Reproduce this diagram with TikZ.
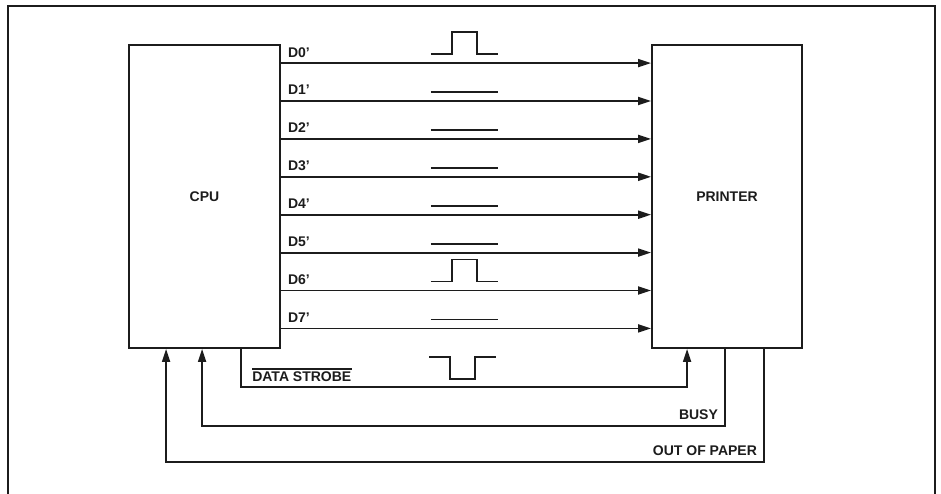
\documentclass[tikz,border=0pt]{standalone}
\usepackage{fontspec}
\setmainfont{Liberation Sans}
\usetikzlibrary{arrows.meta,positioning,calc}
\definecolor{ink}{RGB}{28,28,28}

\tikzset{
  unitbox/.style={draw=ink,line width=1.8pt,inner sep=0pt,
    minimum width=151pt,minimum height=303pt,
    font=\fontsize{14}{16}\selectfont\bfseries,text=ink},
  sig/.style={draw=ink,line width=1.8pt,
    -{Triangle[length=13pt,width=8pt]}},
  wire/.style={draw=ink,line width=1.8pt},
  wave/.style={draw=ink,line width=1.8pt},
  lbl/.style={font=\fontsize{14}{16}\selectfont\bfseries,text=ink,inner sep=0pt},
}

\begin{document}
\begin{tikzpicture}[x=1pt,y=-1pt]
  \useasboundingbox (0,0) rectangle (941,494);
  % outer frame
  \draw[wire] (8,500) |- (935,6) -- (935,500);

  % the two units
  \node[unitbox] (cpu) at (204.5,196.5) {CPU};
  \node[unitbox,minimum width=150pt] (prn) at (727,196.5) {PRINTER};

  % data lines D0'..D7'
  \foreach \i in {0,...,7}{
    \path (cpu.north east) ++(0,19+37.9*\i) coordinate (d\i);
    \draw[sig] (d\i) -- (d\i -| prn.west);
    \node[lbl,anchor=base west] (n\i) at ($(d\i)+(7,-6)$) {D\i’};
  }

  % waveforms
  \foreach \i in {1,2,3,4,5,7}
    \draw[wave] ($(d\i)+(150,-9)$) -- ++(67,0);
  \foreach \i in {0,6}
    \draw[wave] ($(d\i)+(150,-9)$) -- ++(21,0) -- ++(0,-22)
      -- ++(25,0) -- ++(0,22) -- ++(21,0);

  % strobe, busy and out of paper
  \coordinate (stb) at ($(cpu.south west)+(113,0)$);
  \coordinate (bsy) at ($(cpu.south west)+(74,0)$);
  \coordinate (oop) at ($(cpu.south west)+(38,0)$);
  \coordinate (stbin) at ($(prn.south west)+(36,0)$);
  \coordinate (bsyout) at ($(prn.south west)+(74,0)$);
  \coordinate (oopout) at ($(prn.south west)+(113,0)$);

  \draw[sig] (stb) -- ++(0,38) -| (stbin);
  \draw[wave] ($(stb)+(188,8)$) -- ++(21,0) -- ++(0,22)
    -- ++(25,0) -- ++(0,-22) -- ++(21,0);
  \node[lbl,anchor=base west] (stbl) at ($(stb)+(11,33)$) {DATA STROBE};
  \draw[line width=1.2pt,draw=ink] ([yshift=3pt]stbl.north west)
    -- ([yshift=3pt]stbl.north east);

  \draw[sig] (bsyout) -- ++(0,77) -| (bsy);
  \node[lbl,anchor=base east] (bsyl) at ($(bsyout)+(-7,71)$) {BUSY};

  \draw[sig] (oopout) -- ++(0,113) -| (oop);
  \node[lbl,anchor=base east] (oopl) at ($(oopout)+(-7,107)$) {OUT OF PAPER};
\end{tikzpicture}
\end{document}
